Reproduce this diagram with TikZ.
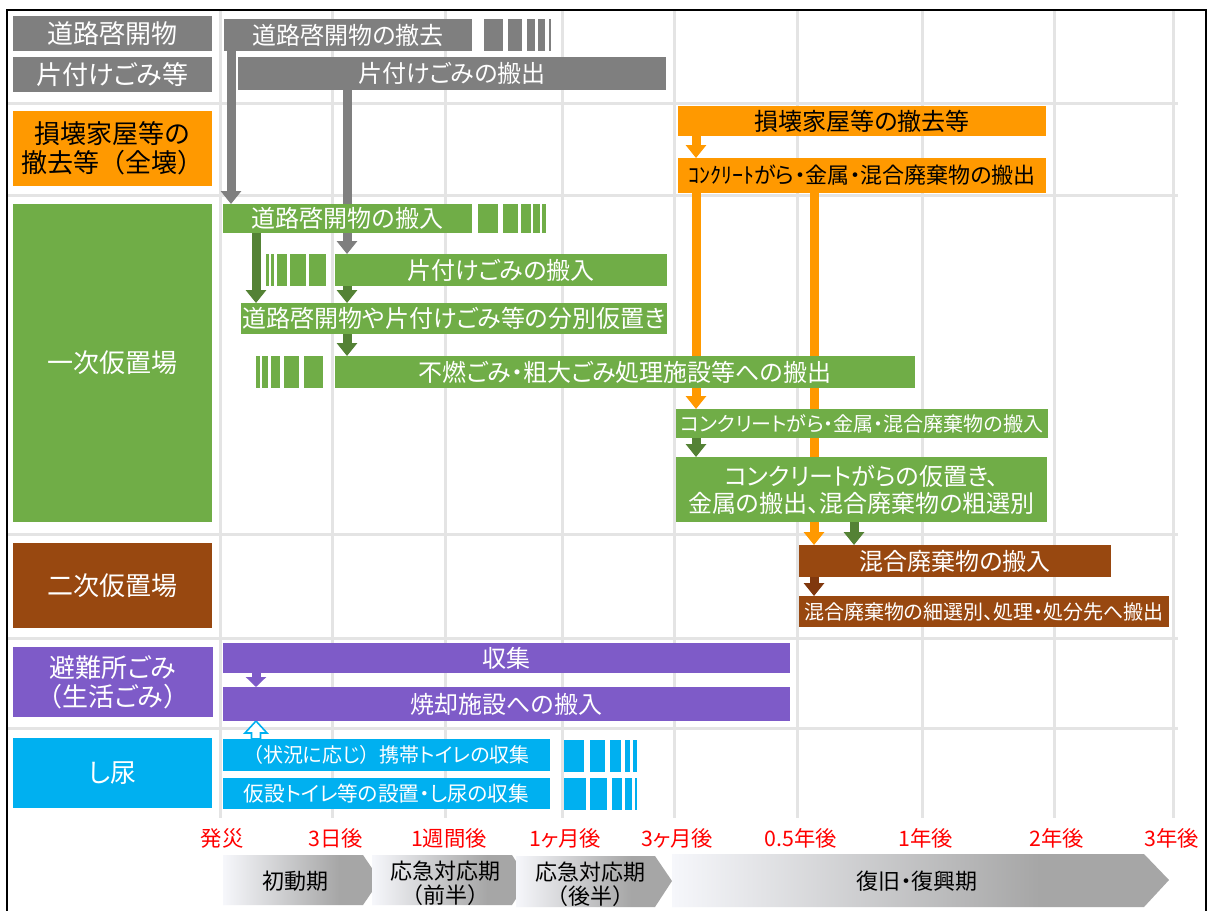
\documentclass[tikz,border=0pt]{standalone}
\usepackage{fontspec}
\usepackage{graphicx}
\setmainfont{Noto Sans CJK JP}[RawFeature=+palt]
% full-width brackets keep their full em box
\newfontfamily\fullwidth{Noto Sans CJK JP}
\newcommand\lpar{{\fullwidth （}}
\newcommand\rpar{{\fullwidth ）}}
\usetikzlibrary{arrows.meta,calc}

\definecolor{cGray}{RGB}{127,127,127}
\definecolor{cGreen}{RGB}{112,173,71}
\definecolor{cDkGreen}{RGB}{84,130,53}
\definecolor{cOrange}{RGB}{255,153,0}
\definecolor{cBrown}{RGB}{152,72,16}
\definecolor{cDkBrown}{RGB}{128,56,14}
\definecolor{cPurple}{RGB}{126,91,200}
\definecolor{cCyan}{RGB}{0,176,240}
\definecolor{cGrid}{RGB}{228,228,228}
\definecolor{cRed}{RGB}{255,0,0}
\definecolor{phaseL}{RGB}{246,247,251}
\definecolor{phaseR}{RGB}{166,166,166}
\pgfdeclarehorizontalshading{phase}{100bp}{color(0bp)=(phaseL); color(25bp)=(phaseL); color(62bp)=(phaseR); color(100bp)=(phaseR)}

\pgfdeclarelayer{bglayer}
\pgfdeclarelayer{gridlayer}
\pgfdeclarelayer{arrowlayer}
\pgfsetlayers{bglayer,gridlayer,arrowlayer,main}

% a row of thin bars fading out a task
\newcommand\stripeset[4]{\foreach \a/\b in {#4} \fill[#1] (\a,#2) rectangle (\b,#3);}

\tikzset{
  span/.style args={#1/#2/#3/#4}{at={({(#1+#3)/2},{(#2+#4)/2})},
    minimum width={(#3-#1)*0.75pt}, minimum height={(#4-#2)*0.75pt}},
  bar/.style={rectangle, inner sep=0pt, outer sep=0pt, text=white, align=center,
    font=\fontsize{18pt}{21pt}\selectfont},
  lab/.style={bar, font=\fontsize{19.5pt}{21.75pt}\selectfont},
  blk/.style={line width=6.75pt, -{Triangle[width=15pt,length=#1]}},
  blk/.default=9.75pt,
  gridln/.style={cGrid, line width=2.25pt},
  tick/.style={text=cRed, font=\fontsize{16pt}{18pt}\selectfont, inner sep=0pt},
  phasetxt/.style={align=center, inner sep=0pt, font=\fontsize{16.5pt}{18pt}\selectfont},
}

\begin{document}
\begin{tikzpicture}[x=0.75pt,y=-0.75pt]
\begin{pgfonlayer}{bglayer}
\fill[white] (0,0) rectangle (1208,911);
\end{pgfonlayer}
\useasboundingbox (0,0) rectangle (1208,911);

% ---------- row labels ----------
\node[lab, fill=cGray,   span={13/16/212/51}]   (L1) {道路啓開物};
\node[lab, fill=cGray,   span={13/57/212/92}]   (L2) {片付けごみ等};
\node[lab, fill=cOrange, text=black, span={13/111/212/186}] (L3) {損壊家屋等の\\撤去等\lpar 全壊\rpar};
\node[lab, fill=cGreen,  span={13/204/212/522}] (L4) {一次仮置場};
\node[lab, fill=cBrown,  span={13/543/212/628}] (L5) {二次仮置場};
\node[lab, fill=cPurple, span={13/647/213/717}] (L6) {避難所ごみ\\\lpar 生活ごみ\rpar};
\node[lab, fill=cCyan,   span={13/738/212/808}] (L7) {し尿};

% ---------- task bars ----------
\node[bar, fill=cGray, span={224/19/472/51}] (g1) {道路啓開物の撤去};
\stripeset{cGray}{19}{51}{484/503,508/522,527/535,538/545,549/551}
\node[bar, fill=cGray, span={238/57/666/90}] (g2) {片付けごみの搬出};

\node[bar, fill=cOrange, text=black, span={678/106/1046/136}] (o1) {損壊家屋等の撤去等};
\node[bar, fill=cOrange, text=black, font=\fontsize{16.5pt}{18pt}\selectfont,
      span={678/158/1046/193}] (o2) {ｺﾝｸﾘｰﾄがら・金属・混合廃棄物の搬出};

\node[bar, fill=cGreen, span={223/204/472/233}] (k1) {道路啓開物の搬入};
\stripeset{cGreen}{204}{233}{478/498,503/518,521/531,533/540,542/546}
\node[bar, fill=cGreen, span={335/254/667/286}] (k2) {片付けごみの搬入};
\stripeset{cGreen}{254}{286}{266/269,271/274,277/287,290/306,309/326}
\node[bar, fill=cGreen, span={241/303/667/334}] (k3) {道路啓開物や片付けごみ等の分別仮置き};
\node[bar, fill=cGreen, span={335/356/915/388}] (k4) {不燃ごみ・粗大ごみ処理施設等への搬出};
\stripeset{cGreen}{356}{388}{256/260,262/268,271/280,284/299,304/323}
\node[bar, fill=cGreen, font=\fontsize{15pt}{18pt}\selectfont,
      span={676/409/1048/438}] (k5) {コンクリートがら・金属・混合廃棄物の搬入};
\node[bar, fill=cGreen, font=\fontsize{18pt}{20.25pt}\selectfont,
      span={676/457/1047/522}] (k6) {コンクリートがらの仮置き、\\金属の搬出、混合廃棄物の粗選別};

\node[bar, fill=cBrown, span={799/545/1111/577}] (b1) {混合廃棄物の搬入};
\node[bar, fill=cBrown, font=\fontsize{15pt}{18pt}\selectfont,
      span={799/596/1169/627}] (b2) {混合廃棄物の細選別、処理・処分先へ搬出};

\node[bar, fill=cPurple, span={223/643/790/673}] (p1) {収集};
\node[bar, fill=cPurple, span={223/687/790/721}] (p2) {焼却施設への搬入};

\node[bar, fill=cCyan, font=\fontsize{15pt}{18pt}\selectfont,
      span={223/739/550/771}] (c1) {\lpar 状況に応じ\rpar 携帯トイレの収集};
\stripeset{cCyan}{740}{772}{564/584,590/605,610/621,625/630,633/637}
\node[bar, fill=cCyan, font=\fontsize{15.5pt}{18pt}\selectfont,
      span={223/778/550/809}] (c2) {仮設トイレ等の設置・し尿の収集};
\stripeset{cCyan}{778}{810}{564/586,590/607,612/622,625/632,635/637}

% ---------- flow arrows (behind the bars) ----------
\coordinate (xa) at (231,0);
\coordinate (xb) at (347,0);
\coordinate (xc) at (256,0);
\coordinate (xd) at (696,0);
\coordinate (xe) at (814,0);
\coordinate (xf) at (854,0);

\begin{pgfonlayer}{arrowlayer}
\draw[blk, cGray] (g1.south -| xa) -- (k1.north -| xa);
\draw[blk, cGray] (g2.south -| xb) -- (k2.north -| xb);
\draw[blk, cDkGreen] (k1.south -| xc) -- (k3.north -| xc);
\draw[blk, cDkGreen] (k2.south -| xb) -- (k3.north -| xb);
\draw[blk, cDkGreen] (k3.south -| xb) -- (k4.north -| xb);
\draw[blk, cOrange] (o1.south -| xd) -- (o2.north -| xd);
\draw[blk, cOrange] (o2.south -| xd) -- (k5.north -| xd);
\draw[blk, cOrange] (o2.south -| xe) -- (b1.north -| xe);
\draw[blk, cDkGreen] (k5.south -| xd) -- (k6.north -| xd);
\draw[blk, cDkGreen] (k6.south -| xf) -- (b1.north -| xf);
\draw[blk, cDkBrown] (b1.south -| xe) -- (b2.north -| xe);
\draw[blk=7.5pt, cPurple] (p1.south -| xc) -- (p2.north -| xc);
\draw[cCyan, fill=white, line width=1.2pt]
  ($(c1.north -| xc)+(-4.5,0)$) -- ++(0,-6) -- ++(-6.5,0) -- (p2.south -| xc)
  -- ($(c1.north -| xc)+(11,-6)$) -- ++(-6.5,0) -- ++(0,6) -- cycle;
\end{pgfonlayer}

% ---------- grid and frame ----------
\begin{pgfonlayer}{gridlayer}
\foreach \gx in {220,332,445,562,674,797,922,1054,1173}
  \draw[gridln] (\gx,10) -- (\gx,818);
\foreach \gy in {103,195,534,638,728}
  \draw[gridln] (7,\gy) -- (1178,\gy);
\end{pgfonlayer}
\draw[line width=1.5pt] (7,911) -- (7,10) -- (1206,10) -- (1206,911);

% ---------- time axis ----------
\node[tick] (t0) at (222,838) {発災};
\node[tick] (t1) at (336,838) {3日後};
\node[tick] (t2) at (449,838) {1週間後};
\node[tick] (t3) at (565,838) {1ヶ月後};
\node[tick] (t4) at (677,838) {3ヶ月後};
\node[tick] (t5) at (801,838) {0.5年後};
\node[tick] (t6) at (926,838) {1年後};
\node[tick] (t7) at (1057,838) {2年後};
\node[tick] (t8) at (1172,838) {3年後};

% ---------- phases ----------
\shade[shading=phase] (223,855) -- (363,855) -- (380,880) -- (363,905) -- (223,905) -- cycle;
\shade[shading=phase] (372,855) -- (512,855) -- (528,880) -- (512,905) -- (372,905) -- cycle;
\shade[shading=phase] (516,856) -- (655,856) -- (672,881) -- (655,907) -- (516,907) -- cycle;
\shade[shading=phase] (672,854) -- (1144,854) -- (1169,880) -- (1144,907) -- (672,907) -- cycle;
\node[phasetxt] (ph1) at (295,881) {初動期};
\node[phasetxt] (ph2) at (445,883) {応急対応期\\\lpar 前半\rpar};
\node[phasetxt] (ph3) at (590,884) {応急対応期\\\lpar 後半\rpar};
\node[phasetxt] (ph4) at (917,881) {復旧・復興期};
\end{tikzpicture}
\end{document}
